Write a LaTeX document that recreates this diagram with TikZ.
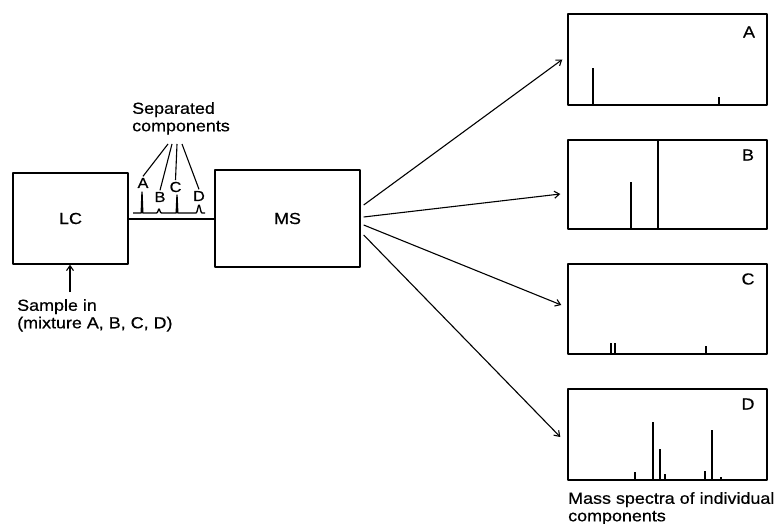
\documentclass[tikz,border=0pt]{standalone}
\usepackage{fontspec}
\setmainfont{Liberation Sans}[FakeStretch=1.12,FakeBold=0.6]
\usetikzlibrary{arrows.meta}
\begin{document}
\begin{tikzpicture}[x=1pt,y=-1pt,line join=round,
  box/.style={draw,line width=1.4pt,inner sep=0pt,font=\fontsize{16}{17}\selectfont},
  txt/.style={inner sep=0pt,font=\fontsize{16}{17.5}\selectfont,align=left},
  small/.style={inner sep=1.5pt,font=\fontsize{14.5}{15}\selectfont},
  arr/.style={line width=1.1pt,-{Straight Barb[length=5pt,width=7pt,line width=1.1pt]}},
  fanline/.style={line width=1.1pt},
  peak/.style={line width=1.9pt}]
\useasboundingbox (0,0) rectangle (779,524);

% main boxes
\node[box,minimum width=115pt,minimum height=91pt] (LC) at (70.5,218.5) {LC};
\node[box,minimum width=145pt,minimum height=97pt] (MS) at (287.5,218.5) {MS};

% spectrum boxes
\node[box,minimum width=199pt,minimum height=91pt] (SA) at (667.5,59.5) {};
\node[box,minimum width=199pt,minimum height=89pt] (SB) at (667.5,184.5) {};
\node[box,minimum width=199pt,minimum height=90pt] (SC) at (667.5,309) {};
\node[box,minimum width=199pt,minimum height=91pt] (SD) at (667.5,434.5) {};
\node[txt] (tA) at (749,32) {A};
\node[txt] (tB) at (748,155) {B};
\node[txt] (tC) at (748,279) {C};
\node[txt] (tD) at (748,404) {D};

% tube
\draw[line width=2pt] (LC.east) -- (MS.west);

% chromatogram
\draw[line width=1.3pt] (133,213) -- (141.2,213) -- (142,192) -- (142.8,213) -- (156.5,213)
  .. controls (158,213) and (158.3,209) .. (159,209) .. controls (159.7,209) and (160,213) .. (161.5,213)
  -- (176.2,213) -- (177,195) -- (177.8,213) -- (196,213)
  .. controls (197.5,213) and (198,205) .. (199,205) .. controls (200,205) and (200.5,213) .. (202,213)
  -- (205,213);

% chromatogram labels
\node[small] (lA) at (143,183) {A};
\node[small] (lB) at (160,197) {B};
\node[small] (lC) at (175.5,187) {C};
\node[small] (lD) at (199,196) {D};

\node[txt,anchor=north west] (comp) at (132,102) {Separated\\components};
\coordinate (fan) at (175,144);
\draw[fanline] ([xshift=-7pt]fan) -- (lA.north);
\draw[fanline] ([xshift=-3pt]fan) -- (lB.north);
\draw[fanline] ([xshift=2pt]fan) -- (lC.north);
\draw[fanline] ([xshift=7pt]fan) -- (lD.north);

% sample in
\node[txt,anchor=north west] (sample) at (17,299) {Sample in\\(mixture A, B, C, D)};
\coordinate (sin) at (70,292);
\draw[arr] (sin) -- (sin |- LC.south);

% arrows MS -> spectra
\draw[arr] ([xshift=3pt,yshift=13.5pt]MS.east) -- ([xshift=-5pt]SA.west);
\draw[arr] ([xshift=3pt,yshift=1.5pt]MS.east) -- ([xshift=-7pt,yshift=-9.5pt]SB.west);
\draw[arr] ([xshift=3pt,yshift=-6.5pt]MS.east) -- ([xshift=-6pt,yshift=4pt]SC.west);
\draw[arr] ([xshift=3pt,yshift=-16.5pt]MS.east) -- ([xshift=-7pt,yshift=-2.5pt]SD.west);

% spectra peaks
\draw[peak] (593,105) -- (593,68);
\draw[peak] (719,105) -- (719,97);
\draw[peak] (631,229) -- (631,182);
\draw[peak] (658,229) -- (658,140);
\draw[peak] (611,354) -- (611,343);
\draw[peak] (615,354) -- (615,343);
\draw[peak] (706,354) -- (706,346);
\draw[peak] (635,480) -- (635,472);
\draw[peak] (653,480) -- (653,422);
\draw[peak] (660,480) -- (660,449);
\draw[peak] (665,480) -- (665,474);
\draw[peak] (705,480) -- (705,471);
\draw[peak] (712,480) -- (712,430);
\draw[peak] (721,480) -- (721,477);

\node[txt,anchor=north west] (mass) at (568,492) {Mass spectra of individual\\components};
\end{tikzpicture}
\end{document}
